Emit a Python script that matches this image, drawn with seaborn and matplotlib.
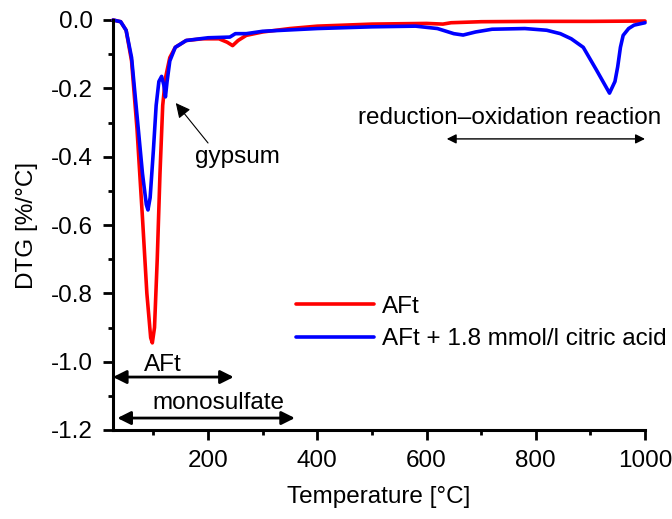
import numpy as np
import pandas as pd
import matplotlib
matplotlib.use("Agg")
import matplotlib.pyplot as plt
import seaborn as sns

# Data
temp_aft = [26, 40, 50, 60, 70, 80, 88, 95, 98, 102, 107, 112, 117, 122, 130, 140,
            160, 190, 220, 235, 245, 255, 270, 300, 350, 400, 500, 600, 630, 645,
            700, 800, 900, 1000]
dtg_aft = [0.0, -0.005, -0.03, -0.12, -0.32, -0.58, -0.80, -0.93, -0.945, -0.90,
           -0.70, -0.45, -0.25, -0.17, -0.11, -0.08, -0.06, -0.055, -0.055, -0.065,
           -0.075, -0.06, -0.045, -0.035, -0.025, -0.018, -0.012, -0.01, -0.012,
           -0.008, -0.005, -0.004, -0.004, -0.003]

temp_cit = [26, 40, 50, 60, 70, 80, 87, 90, 94, 100, 105, 110, 115, 119, 122, 125,
            130, 140, 160, 200, 240, 250, 270, 300, 400, 500, 580, 620, 650, 667,
            690, 720, 780, 820, 845, 865, 887, 911, 935, 945, 950, 955, 960, 970,
            980, 1000]
dtg_cit = [0.0, -0.005, -0.03, -0.11, -0.28, -0.45, -0.54, -0.556, -0.52, -0.38,
           -0.25, -0.18, -0.165, -0.19, -0.225, -0.18, -0.12, -0.08, -0.06, -0.052,
           -0.05, -0.04, -0.04, -0.033, -0.025, -0.02, -0.018, -0.025, -0.04, -0.044,
           -0.035, -0.027, -0.025, -0.03, -0.04, -0.055, -0.08, -0.146, -0.214,
           -0.18, -0.137, -0.08, -0.045, -0.025, -0.015, -0.008]

series_names = ["AFt", "AFt + 1.8 mmol/l citric acid"]
series_colors = ["#ff0000", "#0000ff"]

df = pd.concat([
    pd.DataFrame({"Temperature": temp_aft, "DTG": dtg_aft, "series": series_names[0]}),
    pd.DataFrame({"Temperature": temp_cit, "DTG": dtg_cit, "series": series_names[1]}),
], ignore_index=True)

sns.set_style("ticks")
plt.rcParams["font.family"] = ["Liberation Sans", "DejaVu Sans"]
plt.rcParams.update({"text.color": "black", "axes.labelcolor": "black",
                     "xtick.color": "black", "ytick.color": "black",
                     "axes.edgecolor": "black"})
FS = 17.5

fig = plt.figure(figsize=(6.72, 5.19), dpi=100)
ax = fig.add_axes([113 / 672, 1 - 430 / 519, (645 - 113) / 672, (430 - 20) / 519])

sns.lineplot(data=df, x="Temperature", y="DTG", hue="series", hue_order=series_names,
             palette=series_colors, estimator=None, sort=False, linewidth=2.6, ax=ax)
for ln in ax.get_lines():
    ln.set_clip_on(False)

ax.set_xlim(26, 1000)
ax.set_ylim(-1.2, 0.0)
ax.set_xticks([200, 400, 600, 800, 1000])
ax.set_xticks([100, 300, 500, 700, 900], minor=True)
ax.set_yticks(np.round(np.arange(-1.2, 0.01, 0.2), 1))
ax.set_yticks(np.round(np.arange(-1.1, 0.0, 0.2), 1), minor=True)
ax.yaxis.set_major_formatter(matplotlib.ticker.FuncFormatter(lambda v, p: f"{v:.1f}".replace("-0.0", "0.0")))

for s in ["top", "right"]:
    ax.spines[s].set_visible(False)
for s in ["left", "bottom"]:
    ax.spines[s].set_linewidth(2.2)
    ax.spines[s].set_color("black")
ax.tick_params(which="major", length=7.5, width=2.0, labelsize=FS, pad=7, color="black",
               labelcolor="black")
ax.tick_params(which="minor", length=3.6, width=2.0, color="black")

ax.set_xlabel("Temperature [°C]", fontsize=FS, labelpad=10, color="black")
ax.set_ylabel("DTG [%/°C]", fontsize=FS, labelpad=9, color="black")

leg = ax.legend(loc="center left", bbox_to_anchor=((296 - 113) / 532, (430 - 323) / 410),
                frameon=False, fontsize=FS, borderpad=0, borderaxespad=0,
                handlelength=3.2, handletextpad=0.35, labelspacing=0.45)
for h in leg.get_lines():
    h.set_linewidth(2.6)
for t in leg.get_texts():
    t.set_color("black")

# Annotations
ax.annotate("", xy=(141, -0.243), xytext=(200, -0.36),
            arrowprops=dict(arrowstyle="-|>", lw=0.8, color="black", mutation_scale=22,
                            shrinkA=0, shrinkB=0))
ax.text(253, -0.40, "gypsum", fontsize=FS, ha="center", va="center", color="black")

ax.annotate("", xy=(637, -0.348), xytext=(1000, -0.348),
            arrowprops=dict(arrowstyle="<|-|>", lw=1.0, color="black", mutation_scale=14,
                            shrinkA=0, shrinkB=0))
ax.text(753, -0.287, "reduction–oxidation reaction", fontsize=FS, ha="center", va="center",
        color="black")

ax.annotate("", xy=(26, -1.045), xytext=(247, -1.045),
            arrowprops=dict(arrowstyle="<|-|>", lw=2.0, color="black", mutation_scale=20,
                            shrinkA=0, shrinkB=0))
ax.text(118, -1.009, "AFt", fontsize=FS, ha="center", va="center", color="black")

ax.annotate("", xy=(34, -1.165), xytext=(359, -1.165),
            arrowprops=dict(arrowstyle="<|-|>", lw=2.0, color="black", mutation_scale=20,
                            shrinkA=0, shrinkB=0))
ax.text(219, -1.121, "monosulfate", fontsize=FS, ha="center", va="center", color="black")

fig.savefig("out.png", dpi=100)
